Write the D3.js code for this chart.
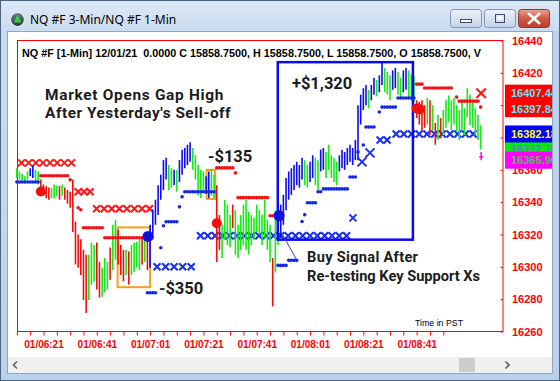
<!DOCTYPE html>
<html lang="en">
<head>
<meta charset="UTF-8">
<title>NQ #F 3-Min/NQ #F 1-Min</title>
<style>
  body { margin: 0; padding: 0; background: #fff; }
  svg { display: block; }
</style>
</head>
<body>
<svg width="560" height="381"></svg>
<script src="https://d3js.org/d3.v7.min.js"></script>
<script>
// ---- 1-min bars (bar 0 = 06:11) ----
const barHigh = [
  16361, 16359, 16357.5, 16356, 16359, 16361, 16362.5, 16360, 16359, 16354,
  16351, 16350, 16349, 16349, 16351, 16350, 16350, 16351, 16349, 16347.5,
  16346.5, 16354, 16328, 16320, 16317, 16310.5, 16307.5, 16307.5, 16315, 16313.5,
  16315, 16303, 16299.5, 16305.5, 16303, 16312, 16326, 16329, 16323, 16313.5,
  16310.5, 16310.5, 16309.5, 16313.5, 16315, 16315.5, 16317, 16318, 16319, 16317,
  16326, 16335.5, 16341.5, 16350.5, 16357, 16366, 16367.5, 16363, 16361, 16360,
  16360, 16366, 16372.5, 16373.5, 16375.5, 16377, 16373.5, 16369, 16363, 16360,
  16359, 16356, 16359, 16360, 16357, 16350.5, 16332, 16326, 16341.5, 16338.5,
  16332, 16338.5, 16335, 16326, 16332, 16338.5, 16341.5, 16334, 16332, 16330.5,
  16338.5, 16335, 16332, 16341.5, 16329, 16326, 16305.5, 16335, 16334, 16338.5,
  16344.5, 16355, 16359, 16361, 16363, 16365, 16363, 16367.5, 16366, 16363,
  16365, 16369, 16367.5, 16366, 16372.5, 16373.5, 16371, 16375.5, 16369, 16367.5,
  16365, 16369, 16372.5, 16371, 16373.5, 16375.5, 16373.5, 16378.5, 16400, 16406.5,
  16410.5, 16412.5, 16409.5, 16412.5, 16417, 16415.5, 16418.5, 16427, 16423, 16420.5,
  16418.5, 16421.5, 16423, 16420.5, 16417, 16421.5, 16423, 16421.5, 16419, 16418,
  16403, 16402, 16403, 16400, 16404.5, 16403, 16400, 16389, 16394, 16392,
  16397, 16403, 16406, 16403, 16404.5, 16400, 16397, 16402, 16398, 16410.5,
  16406.5, 16403, 16398, 16394, 16387.5
];
const barLow = [
  16355, 16354, 16352.5, 16352.5, 16354, 16356, 16355, 16352.5, 16351, 16346.5,
  16344, 16342.5, 16341.5, 16342.5, 16342.5, 16344, 16341.5, 16344, 16341.5, 16339,
  16336.5, 16321.5, 16301.5, 16299.5, 16295, 16279.5, 16271.5, 16279.5, 16289, 16291,
  16286, 16281, 16281.5, 16284.5, 16286, 16292, 16298, 16304.5, 16301.5, 16295,
  16291, 16295, 16289, 16295, 16297, 16299.5, 16298, 16301.5, 16303, 16298,
  16299.5, 16317, 16326, 16332, 16341.5, 16347.5, 16354, 16347.5, 16349, 16350.5,
  16346.5, 16352.5, 16357, 16361, 16363, 16365, 16360, 16354, 16344.5, 16342.5,
  16346.5, 16345, 16342.5, 16344, 16342.5, 16303, 16310.5, 16305.5, 16317, 16313.5,
  16312, 16324, 16307.5, 16305.5, 16310.5, 16313.5, 16310.5, 16307.5, 16313.5, 16317,
  16321.5, 16320, 16313.5, 16318, 16310.5, 16303, 16275.5, 16296.5, 16313.5, 16318,
  16326, 16335, 16341.5, 16344.5, 16347.5, 16350.5, 16349, 16354, 16350.5, 16349,
  16352.5, 16355, 16350.5, 16347.5, 16359, 16360, 16355, 16360, 16355, 16352.5,
  16350.5, 16359, 16361, 16360, 16363, 16365, 16363, 16366, 16366, 16388,
  16397, 16400, 16398, 16403, 16406.5, 16405.5, 16408, 16412.5, 16408, 16406.5,
  16403, 16409.5, 16410.5, 16406.5, 16404.5, 16408, 16409.5, 16404.5, 16403, 16402,
  16392, 16388, 16384.5, 16386, 16388, 16381.5, 16384.5, 16375.5, 16378.5, 16379.5,
  16381.5, 16386, 16389.5, 16384.5, 16388, 16383.5, 16378.5, 16384.5, 16381.5, 16392.5,
  16387.5, 16386, 16381.5, 16378.5, 16372.5
];
// g = up, r = down, b = strong trend
const barTrend = (
  "gggggbbggr" + "rrrgggrgrr" + "rrrrrrrggg" + "rrgggrggrr" + "rgrggggrgr" +
  "bbbbbbbggb" + "gbbbbbgggg" + "gbbggrrggg" + "grgggggggg" + "ggggggrggb" +
  "bbbbbbbbgg" + "bbggbbgggg" + "gbbbbbbbbb" + "bbgbbgbbgg" + "gbbggbbggg" +
  "rrrrgrgrgr" + "gggggggggg" + "ggggg").split("");
const lastTick = [174.2, 16371, 16366];

// trailing stop dots: [fromBar, toBar, price]
const blueStopRuns = [
  [0, 8, 16352.5], [49, 52, 16284], [54, 54, 16311.8], [55, 55, 16325.4], [56, 60, 16327.9],
  [61, 61, 16337.1], [62, 62, 16343.3], [63, 74, 16346.4],
  [98, 101, 16300.9], [102, 105, 16304], [107, 107, 16328], [108, 108, 16332.2],
  [109, 112, 16339.6], [113, 114, 16346.4], [115, 124, 16348.2], [125, 127, 16355.6],
  [128, 128, 16371.1], [130, 130, 16375.4], [131, 134, 16386.5], [136, 136, 16395.8],
  [137, 142, 16398.8], [143, 149, 16404.4]
];
const redStopRuns = [
  [9, 19, 16356.3], [20, 20, 16353.8], [23, 23, 16336.5], [24, 24, 16335.3],
  [25, 32, 16324.2], [33, 48, 16318], [75, 81, 16361.2], [82, 82, 16358.1],
  [83, 94, 16342.8], [95, 96, 16331.6], [150, 152, 16413], [153, 163, 16410.6],
  [165, 165, 16405], [166, 173, 16402.5], [174, 174, 16398.8]
];
// signal dots: [bar, price]
const sellSignals = [[9, 16346.6], [75, 16327], [150, 16398], [151.2, 16397.5]];
const buySignals = [[49.2, 16318.8], [98.4, 16331.6]];

// 3-min support / resistance Xs: [fromBar, toBar, price, count]
const redXRows = [[1.75, 20.5, 16364.3, 8], [23, 27.5, 16346.4, 3], [29.9, 49.8, 16335.9, 8]];
const blueXRows = [[52.6, 65.4, 16300.1, 5], [68.9, 123.7, 16319.2, 21], [136.3, 138.9, 16378.5, 2], [142.3, 171.2, 16382.2, 11]];
const blueXSingles = [[126.1, 16330.3], [129.5, 16364.9], [132.5, 16370.5]];
const redXSingles = [[174.2, 16407.4]];

// trades: [fromBar, toBar, topPrice, bottomPrice]
const losingTrades = [[37.8, 49.97, 16324.4, 16287.4], [71.2, 74.4, 16360, 16342]];
const winningTrades = [[97.9, 148.6, 16426.6, 16316.8]];

// right-side value labels
const lastValues = ["16407.44", "16397.84", "16382.18", "16372.75", "16365.96"];
const lastKinds = ["red", "red", "blue", "green", "magenta"];

// 16400 and 16380 sit under the value labels
const yTicks = [16260, 16280, 16300, 16320, 16340, 16360, 16420, 16440];
const yMarkTicks = d3.range(16260, 16441, 20);
const xTicks = d3.range(0, 161, 5);

// ---------------- drawing ----------------
const svg = d3.select("svg");
const W = 560, H = 381;
const defs = svg.append("defs");

function vgrad(id, stops) {
  const g = defs.append("linearGradient").attr("id", id)
    .attr("x1", 0).attr("y1", 0).attr("x2", 0).attr("y2", 1);
  stops.forEach(s => g.append("stop").attr("offset", s[0]).attr("stop-color", s[1]));
}
vgrad("frameG", [[0, "#dde9f6"], [0.08, "#cadcf0"], [1, "#bcd2ea"]]);
vgrad("btnG", [[0, "#eef3fa"], [0.5, "#d6e2f0"], [1, "#c3d4e9"]]);
vgrad("closeG", [[0, "#e7a395"], [0.5, "#cf5a48"], [1, "#c03d2b"]]);
vgrad("iconG", [[0, "#6f8094"], [1, "#25303e"]]);

// window frame
svg.append("rect").attr("width", W).attr("height", H).attr("fill", "url(#frameG)");
svg.append("rect").attr("x", 7.5).attr("y", 31.5).attr("width", 545).attr("height", 342)
  .attr("fill", "#fff").attr("stroke", "#8fa8c4");

// title icon + text
svg.append("circle").attr("cx", 17.5).attr("cy", 19.5).attr("r", 7)
  .attr("fill", "url(#iconG)").attr("stroke", "#e8eef5").attr("stroke-width", 1.2);
svg.append("path").attr("d", "M17.5,14.5L21.5,22.5L13.5,22.5Z").attr("fill", "#3ec83e");
svg.append("text").attr("x", 30).attr("y", 24).text("NQ #F 3-Min/NQ #F 1-Min")
  .attr("font-family", "'Noto Sans', sans-serif").attr("font-size", 12).attr("fill", "#000");

// caption buttons
[[450.5, "btnG"], [484.5, "btnG"], [518.5, "closeG"]].forEach(b => {
  svg.append("rect").attr("x", b[0]).attr("y", 9.5).attr("width", 31).attr("height", 18).attr("rx", 3)
    .attr("fill", "url(#" + b[1] + ")").attr("stroke", b[1] === "closeG" ? "#8a3a30" : "#8096b2");
});
svg.append("rect").attr("x", 460.5).attr("y", 19.5).attr("width", 11).attr("height", 3)
  .attr("fill", "#fff").attr("stroke", "#3a4a60");
svg.append("rect").attr("x", 495.5).attr("y", 14.5).attr("width", 9).attr("height", 8)
  .attr("fill", "none").attr("stroke", "#3a4a60").attr("stroke-width", 1);
svg.append("rect").attr("x", 497.5).attr("y", 16.5).attr("width", 5).attr("height", 3)
  .attr("fill", "#fff");
svg.append("path").attr("d", "M529,14L539,23M539,14L529,23")
  .attr("stroke", "#fff").attr("stroke-width", 2.6).attr("stroke-linecap", "square");

// scales
const x = d3.scaleLinear().domain([0, 182.4]).range([16.85, 503]);
const y = d3.scaleLinear().domain([16260, 16440]).range([331.5, 40.5]);
const trendColor = d3.scaleOrdinal().domain(["g", "r", "b"]).range(["#17e817", "#f20d0d", "#0b0bf5"]);

const chart = svg.append("g");

// plot frame
chart.append("rect").attr("x", 17.5).attr("y", 40.5).attr("width", 485.5).attr("height", 291)
  .attr("fill", "none").attr("stroke", "#ff0000");

chart.append("text").attr("x", 22).attr("y", 56.5)
  .text("NQ #F [1-Min] 12/01/21  0.0000 C 15858.7500, H 15858.7500, L 15858.7500, O 15858.7500, V")
  .attr("font-family", "Arial, 'Liberation Sans', sans-serif").attr("font-weight", "bold")
  .attr("font-size", 10.8).attr("fill", "#000").attr("xml:space", "preserve");

// x axis
const fmt = m => {
  const t = 6 * 60 + 11 + m;
  return "01/" + String(Math.floor(t / 60)).padStart(2, "0") + ":" + String(t % 60).padStart(2, "0");
};
const xAxis = chart.append("g").attr("transform", "translate(0,331.5)")
  .call(d3.axisBottom(x).tickValues(xTicks).tickSize(4).tickPadding(5)
    .tickFormat(m => (m - 10) % 20 === 0 ? fmt(m) : ""));
xAxis.select(".domain").remove();
xAxis.selectAll("line").attr("stroke", "#ff0000");
xAxis.selectAll("text").attr("fill", "#ff0000").attr("font-size", 10).attr("font-weight", "bold")
  .attr("font-family", "Arial, 'Liberation Sans', sans-serif");

// y axis: marks inside, labels outside
const yMarks = chart.append("g").attr("transform", "translate(503,0)")
  .call(d3.axisLeft(y).tickValues(yMarkTicks).tickSize(2.5).tickFormat(""));
yMarks.select(".domain").remove();
yMarks.selectAll("line").attr("stroke", "#ff0000");
const yAxis = chart.append("g").attr("transform", "translate(505,0)")
  .call(d3.axisRight(y).tickValues(yTicks).tickSize(0).tickPadding(7).tickFormat(d3.format("d")));
yAxis.select(".domain").remove();
yAxis.selectAll("text").attr("fill", "#ff0000").attr("font-size", 11).attr("font-weight", "bold")
  .attr("font-family", "Arial, 'Liberation Sans', sans-serif");

chart.append("text").attr("x", 415).attr("y", 326).text("Time in PST")
  .attr("font-family", "Arial, 'Liberation Sans', sans-serif").attr("font-size", 8.8).attr("fill", "#000");

// X rows
function xGlyph(s) { return `M${-s},${-s}L${s},${s}M${-s},${s}L${s},${-s}`; }
function expandRows(rows) {
  return rows.flatMap(r => d3.range(r[3]).map(k => [r[3] > 1 ? r[0] + (r[1] - r[0]) * k / (r[3] - 1) : r[0], r[2]]));
}
chart.append("g").selectAll("path").data(expandRows(redXRows)).join("path")
  .attr("transform", d => `translate(${x(d[0])},${y(d[1])})`).attr("d", xGlyph(3.5))
  .attr("stroke", "#ff1a1a").attr("stroke-width", 2.1).attr("fill", "none");
chart.append("g").selectAll("path").data(expandRows(blueXRows)).join("path")
  .attr("transform", d => `translate(${x(d[0])},${y(d[1])})`).attr("d", xGlyph(3.5))
  .attr("stroke", "#1a2ff0").attr("stroke-width", 2.1).attr("fill", "none");

// trade boxes
chart.append("g").selectAll("rect").data(losingTrades).join("rect")
  .attr("x", d => x(d[0])).attr("y", d => y(d[2]))
  .attr("width", d => x(d[1]) - x(d[0])).attr("height", d => y(d[3]) - y(d[2]))
  .attr("fill", "none").attr("stroke", "#f5a01a").attr("stroke-width", 2);

// bars
chart.append("g").selectAll("line").data(barHigh).join("line")
  .attr("x1", (d, i) => x(i)).attr("x2", (d, i) => x(i))
  .attr("y1", d => y(d)).attr("y2", (d, i) => y(barLow[i]))
  .attr("stroke", (d, i) => trendColor(barTrend[i])).attr("stroke-width", 1.6);
chart.append("line").attr("x1", x(lastTick[0])).attr("x2", x(lastTick[0]))
  .attr("y1", y(lastTick[1])).attr("y2", y(lastTick[2])).attr("stroke", "#ff00ff").attr("stroke-width", 1.5);
chart.append("line").attr("x1", x(lastTick[0]) - 2).attr("x2", x(lastTick[0]) + 2)
  .attr("y1", y(lastTick[2] + 2)).attr("y2", y(lastTick[2] + 2)).attr("stroke", "#ff00ff").attr("stroke-width", 1.5);

// winning trade box on top of bars
chart.append("g").selectAll("rect").data(winningTrades).join("rect")
  .attr("x", d => x(d[0])).attr("y", d => y(d[2]))
  .attr("width", d => x(d[1]) - x(d[0])).attr("height", d => y(d[3]) - y(d[2]))
  .attr("fill", "none").attr("stroke", "#0a0af0").attr("stroke-width", 2.5);

// stop dots
function expandRuns(runs) { return runs.flatMap(r => d3.range(r[0], r[1] + 1).map(i => [i, r[2]])); }
chart.append("g").selectAll("circle").data(expandRuns(blueStopRuns)).join("circle")
  .attr("cx", d => x(d[0])).attr("cy", d => y(d[1])).attr("r", 1.8).attr("fill", "#1428e6");
chart.append("g").selectAll("circle").data(expandRuns(redStopRuns)).join("circle")
  .attr("cx", d => x(d[0])).attr("cy", d => y(d[1])).attr("r", 1.8).attr("fill", "#f01414");

// single Xs
chart.append("g").selectAll("path").data(blueXSingles).join("path")
  .attr("transform", d => `translate(${x(d[0])},${y(d[1])})`).attr("d", (d, i) => xGlyph(i === 0 ? 3.5 : 4.5))
  .attr("stroke", "#1a2ff0").attr("stroke-width", 2).attr("fill", "none");
chart.append("g").selectAll("path").data(redXSingles).join("path")
  .attr("transform", d => `translate(${x(d[0])},${y(d[1])})`).attr("d", xGlyph(4.8))
  .attr("stroke", "#ff1a1a").attr("stroke-width", 2.2).attr("fill", "none");

// signal dots
chart.append("g").selectAll("circle").data(sellSignals).join("circle")
  .attr("cx", d => x(d[0])).attr("cy", d => y(d[1])).attr("r", 5).attr("fill", "#f01010");
chart.append("g").selectAll("circle").data(buySignals).join("circle")
  .attr("cx", d => x(d[0])).attr("cy", d => y(d[1])).attr("r", 5.5).attr("fill", "#1010e0");

// annotations
const noteFont = "Roboto, 'Noto Sans', sans-serif";
function note(t, i, p, size, spacing) {
  chart.append("text").attr("x", x(i)).attr("y", y(p)).text(t)
    .attr("font-family", noteFont).attr("font-weight", "bold").attr("font-size", size)
    .attr("letter-spacing", spacing || 0).attr("fill", "#1c1c1c");
}
note("Market Opens Gap High", 10.6, 16403.4, 15.4, 0.7);
note("After Yesterday's Sell-off", 10.6, 16391.9, 15.4, 0.5);
note("+$1,320", 103.2, 16410, 16.5);
note("-$135", 71.7, 16364.9, 16.5);
note("-$350", 53.3, 16283.4, 16.5);
note("Buy Signal After", 108.9, 16303.2, 14.6, 0.3);
note("Re-testing Key Support Xs", 108.9, 16291.4, 14.6);
chart.append("line").attr("x1", x(99.1)).attr("y1", y(16321.7)).attr("x2", x(105.1)).attr("y2", y(16304))
  .attr("stroke", "#2c46d6").attr("stroke-width", 1);

// value labels at right
const boxFill = { red: "#ff0000", blue: "#0000ff", green: "#00ee00", magenta: "#ff00ff" };
const boxText = { red: "#66e6ff", blue: "#ffff00", green: "#5a7fd0", magenta: "#5cb85c" };
const order = [0, 1, 3, 2, 4];
const vl = chart.append("g").selectAll("g").data(order).join("g")
  .attr("transform", k => `translate(505,${y(+lastValues[k])})`);
vl.append("rect").attr("x", 0).attr("y", -8.5).attr("width", 50).attr("height", 17)
  .attr("fill", k => boxFill[lastKinds[k]]);
vl.append("text").attr("x", 6).attr("y", 4).text(k => lastValues[k])
  .attr("fill", k => boxText[lastKinds[k]]).attr("font-size", 11).attr("font-weight", "bold")
  .attr("font-family", "Arial, 'Liberation Sans', sans-serif");

// scrollbar + frame overlays
svg.append("rect").attr("x", 8).attr("y", 357).attr("width", 544).attr("height", 16).attr("fill", "#f0f0f0");
svg.append("rect").attr("x", 459).attr("y", 358).attr("width", 16).attr("height", 14).attr("fill", "#cdcdcd");
svg.append("path").attr("d", "M17,361.5L13.5,365L17,368.5").attr("stroke", "#606060").attr("stroke-width", 1.6).attr("fill", "none");
svg.append("path").attr("d", "M505.5,361.5L509,365L505.5,368.5").attr("stroke", "#606060").attr("stroke-width", 1.6).attr("fill", "none");
svg.append("rect").attr("x", 552.5).attr("y", 31).attr("width", 8).attr("height", 350).attr("fill", "#bcd2ea");
svg.append("line").attr("x1", 552.5).attr("x2", 552.5).attr("y1", 31).attr("y2", 373).attr("stroke", "#8fa8c4");
svg.append("rect").attr("x", 0.5).attr("y", 0.5).attr("width", W - 1).attr("height", H - 1)
  .attr("fill", "none").attr("stroke", "#4a6480");
</script>
</body>
</html>
